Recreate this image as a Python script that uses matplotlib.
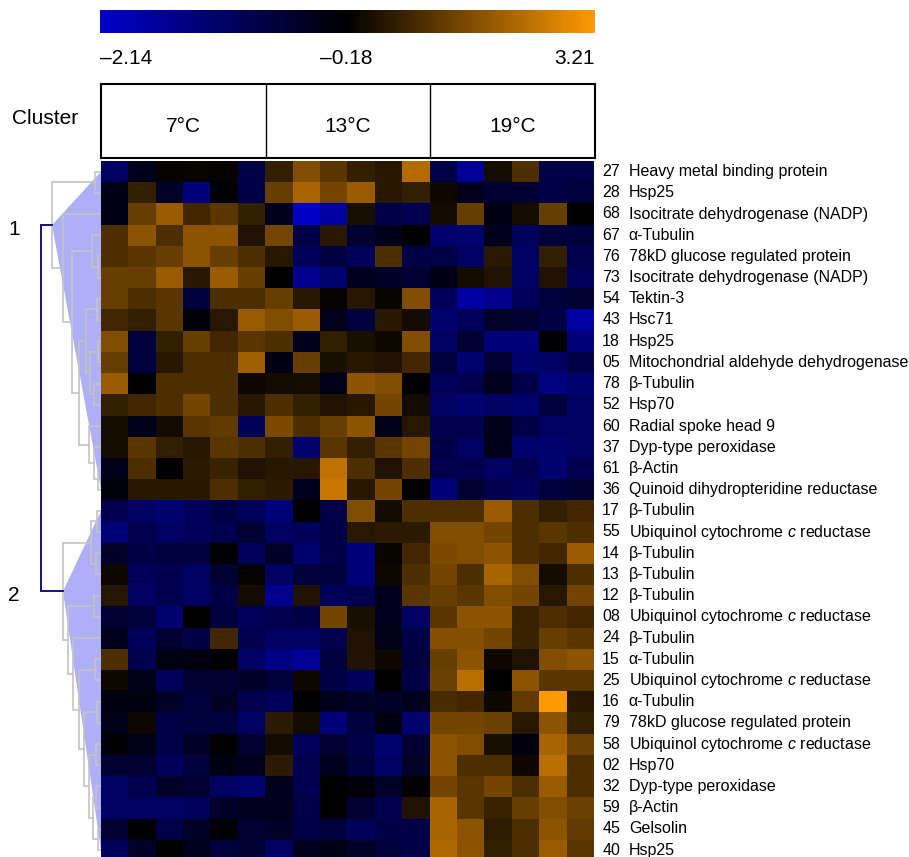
import numpy as np
import matplotlib
matplotlib.use('Agg')
import matplotlib.pyplot as plt
from matplotlib.colors import LinearSegmentedColormap, TwoSlopeNorm
from matplotlib.cm import ScalarMappable
from matplotlib.patches import Polygon

plt.rcParams.update({
    'font.family': 'Liberation Sans',
    'mathtext.fontset': 'custom',
    'mathtext.rm': 'Liberation Sans',
    'mathtext.it': 'Liberation Sans:italic',
})

W, H = 909, 857

# ---- data -----------------------------------------------------------------
spot_ids = ['27', '28', '68', '67', '76', '73', '54', '43', '18', '05', '78',
            '52', '60', '37', '61', '36', '17', '55', '14', '13', '12', '08',
            '24', '15', '25', '16', '79', '58', '02', '32', '59', '45', '40']
protein_names = [
    'Heavy metal binding protein', 'Hsp25', 'Isocitrate dehydrogenase (NADP)',
    'α-Tubulin', '78kD glucose regulated protein',
    'Isocitrate dehydrogenase (NADP)', 'Tektin-3', 'Hsc71', 'Hsp25',
    'Mitochondrial aldehyde dehydrogenase', 'β-Tubulin', 'Hsp70',
    'Radial spoke head 9', 'Dyp-type peroxidase', 'β-Actin',
    'Quinoid dihydropteridine reductase', 'β-Tubulin',
    'Ubiquinol cytochrome $c$ reductase', 'β-Tubulin', 'β-Tubulin',
    'β-Tubulin', 'Ubiquinol cytochrome $c$ reductase', 'β-Tubulin',
    'α-Tubulin', 'Ubiquinol cytochrome $c$ reductase', 'α-Tubulin',
    '78kD glucose regulated protein', 'Ubiquinol cytochrome $c$ reductase',
    'Hsp70', 'Dyp-type peroxidase', 'β-Actin', 'Gelsolin', 'Hsp25']
temps = ['7°C', '13°C', '19°C']

# standardised expression, 6 replicates per temperature
expr_7c = [
    [-1.16, -0.47, -0.11, -0.08, -0.11, -0.87],
    [-0.38, 0.50, -0.57, -1.36, -0.24, -0.87],
    [-0.38, 1.18, 1.85, 0.67, 1.01, 0.50],
    [0.84, 1.68, 0.84, 1.68, 1.68, 0.23],
    [0.84, 1.01, 1.18, 1.68, 1.18, 0.84],
    [1.18, 1.18, 1.85, 0.33, 1.85, 1.18],
    [1.18, 0.84, 1.01, -0.77, 0.84, 0.84],
    [0.67, 0.50, 1.01, -0.28, 0.33, 1.85],
    [1.52, -0.77, 0.50, 1.18, 0.67, 1.01],
    [1.18, -0.77, 0.33, 0.84, 0.84, 1.92],
    [1.85, -0.18, 0.84, 0.84, 0.84, -0.01],
    [0.50, 0.67, 0.84, 1.35, 0.84, 0.33],
    [0.09, -0.42, 0.06, 1.01, 1.11, -1.06],
    [0.09, 1.01, 0.50, 0.33, 1.01, 0.84],
    [-0.42, 0.84, -0.22, 0.40, 0.57, 0.23],
    [-0.28, 0.33, 0.33, 0.33, 0.84, 0.50],
    [-0.96, -1.16, -1.26, -1.06, -0.87, -1.06],
    [-1.36, -0.96, -1.16, -1.06, -0.96, -0.67],
    [-0.57, -0.87, -0.77, -0.77, -0.18, -1.06],
    [-0.01, -1.06, -0.96, -1.16, -0.67, -0.11],
    [0.33, -1.16, -0.96, -1.16, -0.87, 0.06],
    [-0.67, -0.77, -1.26, -0.18, -0.77, -1.06],
    [-0.47, -1.06, -0.67, -0.87, 0.67, -0.96],
    [0.84, -0.96, -0.38, -0.34, -0.24, -1.16],
    [-0.01, -0.42, -1.06, -0.67, -0.67, -0.57],
    [-0.34, -0.34, -0.57, -0.77, -0.57, -0.96],
    [-0.42, -0.01, -0.87, -0.77, -0.77, -1.16],
    [-0.24, -0.42, -0.87, -0.57, -0.18, -0.67],
    [-0.67, -0.67, -1.06, -0.77, -0.38, -0.47],
    [-1.16, -0.96, -0.57, -0.67, -1.16, -1.26],
    [-1.16, -1.16, -1.16, -1.06, -0.57, -0.47],
    [-0.67, -0.18, -0.87, -0.57, -0.24, -0.67],
    [-1.06, -0.57, -0.18, -0.47, -0.77, -0.67],
]
expr_13c = [
    [0.50, 1.52, 1.01, 0.50, 0.33, 2.19],
    [1.18, 2.02, 1.35, 1.85, 0.33, 0.50],
    [-0.47, -2.14, -1.75, 0.16, -0.87, -0.96],
    [1.35, -0.87, 0.33, -0.67, -0.47, -0.18],
    [0.33, -1.06, -0.77, -1.06, 0.84, -0.87],
    [-0.18, -1.55, -1.26, -0.47, -0.57, -0.67],
    [1.18, 0.33, -0.11, 0.33, -0.08, 1.52],
    [1.52, 1.85, -0.47, -0.77, 0.33, 0.06],
    [0.84, -0.47, 0.50, 0.16, -0.01, 1.52],
    [-0.38, 1.18, 0.16, 0.33, 0.23, 0.67],
    [0.06, 0.09, -0.42, 1.68, 1.52, -0.18],
    [0.84, 0.50, 0.23, 0.33, 1.35, 0.06],
    [1.45, 0.84, 1.18, 1.68, -0.42, 0.33],
    [0.50, -1.26, 1.01, 0.50, 1.01, 1.35],
    [0.33, 0.33, 2.36, 0.84, 0.23, 0.84],
    [0.40, -0.47, 2.46, 0.33, 1.35, -0.18],
    [-1.36, -0.18, -0.87, 1.52, 0.06, 0.84],
    [-1.16, -1.06, -0.87, 0.33, 0.40, 0.40],
    [-0.57, -1.26, -0.87, -1.36, -0.08, 0.67],
    [-1.16, -0.77, -0.77, -1.36, -0.01, 0.84],
    [-1.55, 0.23, -1.06, -0.96, -0.47, 1.01],
    [-0.96, -0.87, 1.35, 0.16, -0.47, -1.16],
    [-1.16, -1.16, -0.96, 0.23, -0.42, -0.87],
    [-1.45, -1.65, -0.77, 0.23, -0.01, -0.77],
    [-0.77, -0.01, -0.87, -1.06, -0.18, -0.87],
    [-1.06, -0.18, -0.47, -0.57, -0.57, -0.47],
    [0.40, 0.06, -1.36, -0.77, -0.34, -1.26],
    [0.06, -1.06, -0.67, -0.87, -1.26, -0.67],
    [0.40, -0.96, -0.47, -0.77, -1.16, -0.57],
    [-0.47, -0.96, -0.18, -0.28, -0.57, -0.18],
    [-0.47, -0.87, -0.18, -0.67, -0.96, 0.23],
    [-0.57, -0.87, -0.77, -1.06, -0.87, -0.87],
    [-1.16, -0.47, -0.38, -0.57, -0.77, -0.87],
]
expr_19c = [
    [-0.87, -1.65, 0.09, 0.84, -0.87, -0.87],
    [-0.01, -0.47, -0.67, -0.67, -0.87, -0.77],
    [0.06, 1.18, -0.38, 0.09, 1.18, -0.18],
    [-1.26, -1.26, -0.47, -1.06, -0.77, -0.77],
    [-0.87, -1.16, 0.33, -1.16, 0.50, -0.96],
    [-0.38, 0.06, 0.23, -1.16, 0.23, -1.06],
    [-1.06, -1.75, -1.55, -1.06, -0.77, -0.67],
    [-1.26, -1.06, -0.57, -0.67, -0.87, -1.75],
    [-1.16, -0.67, -1.36, -1.36, -0.22, -1.36],
    [-0.77, -1.26, -0.67, -1.26, -1.16, -0.87],
    [-1.06, -0.96, -0.47, -0.87, -1.45, -1.26],
    [-1.16, -1.26, -1.16, -1.26, -0.77, -1.16],
    [-0.96, -0.96, -0.42, -0.87, -1.16, -1.16],
    [-0.87, -1.16, -0.42, -1.26, -1.26, -1.16],
    [-0.96, -0.96, -1.16, -0.96, -1.26, -0.96],
    [-1.36, -0.67, -0.96, -1.06, -0.77, -0.67],
    [0.84, 0.84, 1.85, 0.84, 0.50, 0.67],
    [1.52, 1.52, 1.35, 0.84, 1.01, 0.84],
    [1.45, 1.52, 1.68, 0.84, 0.67, 1.85],
    [1.35, 0.84, 2.02, 1.52, 0.06, 0.84],
    [1.18, 1.01, 1.52, 1.35, 0.33, 1.35],
    [1.01, 1.68, 1.68, 0.57, 0.84, 0.67],
    [1.58, 1.58, 1.35, 0.57, 1.18, 1.01],
    [1.18, 1.68, -0.01, 0.23, 1.52, 1.68],
    [1.24, 2.26, -0.18, 1.68, 1.01, 1.01],
    [0.77, 0.67, -0.01, 1.11, 3.21, 0.33],
    [1.35, 1.35, 1.24, 0.33, 1.68, 0.50],
    [1.68, 1.52, 0.16, -0.34, 2.02, 1.24],
    [1.68, 0.84, 0.84, -0.01, 2.26, 0.84],
    [1.35, 1.01, 1.35, 0.84, 1.85, 0.84],
    [2.02, 1.01, 0.57, 1.18, 1.52, 1.24],
    [2.02, 1.68, 0.43, 0.84, 1.68, 1.11],
    [2.13, 1.68, 0.50, 0.84, 1.85, 1.01],
]

# dendrogram merges: (child a, child b, distance); leaves are 0..32,
# merged nodes get ids 33, 34, ... in this order
merges = [
    (0, 1, 6), (4, 5, 3), (3, 34, 9), (6, 7, 4), (8, 9, 3), (10, 11, 7),
    (37, 38, 11), (36, 39, 15), (14, 15, 3), (13, 41, 7), (12, 42, 12),
    (40, 43, 22), (35, 44, 29), (2, 45, 38), (33, 46, 49),
    (16, 17, 4), (18, 19, 5), (48, 49, 10), (31, 32, 3), (29, 30, 5),
    (52, 51, 8), (27, 28, 5), (54, 53, 12), (25, 26, 4), (56, 55, 17),
    (23, 24, 6), (58, 57, 22), (22, 59, 28), (20, 21, 7), (61, 60, 33),
    (50, 62, 38),
    (47, 63, 60),
]
cluster_roots = {'1': 47, '2': 63}
cluster_leaves = {'1': (0, 15), '2': (16, 32)}

# ---- figure ---------------------------------------------------------------
vmin, vcenter, vmax = -2.14, -0.18, 3.21
data = np.hstack([np.array(expr_7c), np.array(expr_13c), np.array(expr_19c)])
n_rows, n_cols = data.shape

cmap = LinearSegmentedColormap.from_list('blk', ['#0000c8', '#000000', '#ff9900'])
norm = TwoSlopeNorm(vcenter=vcenter, vmin=vmin, vmax=vmax)


def px(x0, y0, x1, y1):
    return [x0 / W, 1 - y1 / H, (x1 - x0) / W, (y1 - y0) / H]


fig = plt.figure(figsize=(W / 100, H / 100), dpi=100)

X0, X1 = 101, 594
Y0, ROW_H = 161, 21.2
Y1 = Y0 + n_rows * ROW_H
ax = fig.add_axes(px(X0, Y0, X1, Y1))
ax.imshow(data, cmap=cmap, norm=norm, aspect='auto', interpolation='nearest',
          extent=(0, n_cols, n_rows, 0))
ax.set_xlim(0, n_cols)
ax.set_ylim(n_rows, 0)
ax.axis('off')

for i, (sid, name) in enumerate(zip(spot_ids, protein_names)):
    ax.text(18.3, i + 0.5, sid, ha='left', va='center', fontsize=11.5)
    ax.text(19.27, i + 0.5, name, ha='left', va='center', fontsize=11.5)

# dendrogram
axd = fig.add_axes(px(0, Y0, X0, Y1), sharey=ax)
axd.set_xlim(X0, 0)
axd.axis('off')
pos = {i: i + 0.5 for i in range(n_rows)}
dist = {i: 0 for i in range(n_rows)}
for k, (a, b, d) in enumerate(merges):
    node = n_rows + k
    top = k == len(merges) - 1
    col, lw = ('#000080', 1.3) if top else ('#c4c4c4', 1.2)
    axd.plot([dist[a], d, d, dist[b]], [pos[a], pos[a], pos[b], pos[b]],
             color=col, lw=lw, solid_joinstyle='miter')
    pos[node] = (pos[a] + pos[b]) / 2
    dist[node] = d

for lab, root in cluster_roots.items():
    first, last = cluster_leaves[lab]
    tri = Polygon([(dist[root], pos[root]), (0, pos[first]), (0, pos[last])],
                  closed=True, facecolor='#6060f0', alpha=0.5, edgecolor='none')
    axd.add_patch(tri)
    axd.text(87, pos[root] + 0.2, lab, ha='center', va='center', fontsize=15)

# colour bar
cax = fig.add_axes(px(X0 - 1, 9.5, X1 + 1, 32.5))
cb = fig.colorbar(ScalarMappable(norm=norm, cmap=cmap), cax=cax,
                  orientation='horizontal')
cb.set_ticks([])
cb.outline.set_visible(False)
fig.text((X0 - 1) / W, 1 - 59 / H, f'–{abs(vmin):.2f}', ha='left', va='center', fontsize=15)
fig.text(346 / W, 1 - 59 / H, f'–{abs(vcenter):.2f}', ha='center', va='center', fontsize=15)
fig.text((X1 + 1) / W, 1 - 59 / H, f'{vmax:.2f}', ha='right', va='center', fontsize=15)

# header boxes
axh = fig.add_axes(px(X0, 84, X1 + 1, 158))
axh.set_xlim(0, n_cols)
axh.set_ylim(0, 1)
axh.set_xticks([])
axh.set_yticks([])
for s in axh.spines.values():
    s.set_linewidth(1.5)
for j, t in enumerate(temps):
    axh.text(j * 6 + 3, 0.42, t, ha='center', va='center', fontsize=15)
    if j:
        axh.axvline(j * 6, color='black', lw=1.0)
fig.text(45 / W, 1 - 118 / H, 'Cluster', ha='center', va='center', fontsize=15)

fig.savefig('out.png', dpi=100)
